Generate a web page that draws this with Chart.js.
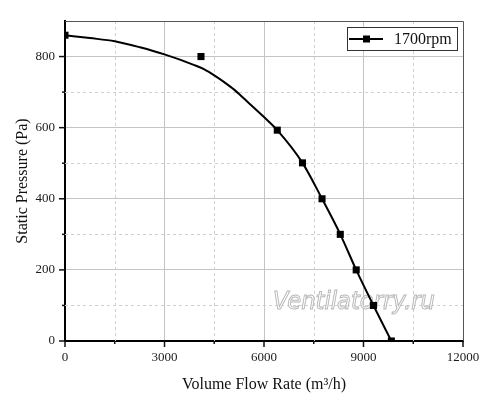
<!DOCTYPE html>
<html>
<head>
<meta charset="utf-8">
<script src="https://cdn.jsdelivr.net/npm/chart.js@4.4.0/dist/chart.umd.min.js"></script>
<style>
  html, body { margin: 0; padding: 0; background: #fff; }
  #wrap { width: 500px; height: 410px; }
</style>
</head>
<body>
<div id="wrap"><canvas id="fanChart"></canvas></div>
<script>
// measured points (square markers)
const flowRates = [0, 4100, 6400, 7160, 7750, 8300, 8780, 9300, 9840];
const pressures = [860, 800, 593, 501, 400, 300, 200, 100, 0];

// fitted curve
const fitFlow = [0, 750, 1500, 2260, 3000, 3900, 4200, 4500, 4800, 5100, 5430, 6000, 6400, 7160, 7750, 8300, 8780, 9300, 9840];
const fitPressure = [860, 852, 843, 826, 806, 776, 764, 747, 728, 707, 679, 630, 593, 501, 400, 300, 200, 100, 0];

const seriesLabel = "1700rpm";
const xTickLabels = [0, 3000, 6000, 9000, 12000];
const yTickLabels = [0, 200, 400, 600, 800];
const watermark = "Ventilatorry.ru";

const serif = "'Liberation Serif', 'Times New Roman', serif";

const minorGrid = {
    id: "minorGrid",
    beforeDatasetsDraw(chart) {
        const { ctx, chartArea: a } = chart;
        const x = chart.scales.x, y = chart.scales.y;
        ctx.save();
        ctx.strokeStyle = "#d0d0d0";
        ctx.lineWidth = 1;
        ctx.setLineDash([3, 3]);
        x.ticks.forEach(t => {
            if (xTickLabels.includes(t.value)) return;
            const px = Math.round(x.getPixelForValue(t.value)) + 0.5;
            ctx.beginPath(); ctx.moveTo(px, a.top); ctx.lineTo(px, a.bottom); ctx.stroke();
        });
        y.ticks.forEach(t => {
            if (yTickLabels.includes(t.value) || t.value === y.max) return;
            const py = Math.round(y.getPixelForValue(t.value)) + 0.5;
            ctx.beginPath(); ctx.moveTo(a.left, py); ctx.lineTo(a.right, py); ctx.stroke();
        });
        ctx.setLineDash([]);

        // watermark
        ctx.font = "italic 24px 'DejaVu Sans', sans-serif";
        const w = ctx.measureText(watermark).width;
        ctx.save();
        ctx.translate(354, 302);
        ctx.scale(162 / w, 1.05);
        ctx.textAlign = "center";
        ctx.textBaseline = "middle";
        ctx.fillStyle = "rgba(255,255,255,0.7)";
        ctx.fillText(watermark, 0, 0);
        ctx.strokeStyle = "#b8b8b8";
        ctx.lineWidth = 1;
        ctx.strokeText(watermark, 0, 0);
        ctx.restore();
        ctx.restore();
    }
};

const frameAndLegend = {
    id: "frameAndLegend",
    afterDraw(chart) {
        const { ctx, chartArea: a } = chart;
        const x = chart.scales.x, y = chart.scales.y;
        ctx.save();
        // top and right frame
        ctx.strokeStyle = "#555";
        ctx.lineWidth = 1;
        ctx.beginPath();
        ctx.moveTo(a.left, a.top + 0.5); ctx.lineTo(a.right + 0.5, a.top + 0.5); ctx.lineTo(a.right + 0.5, a.bottom);
        ctx.stroke();

        // tick marks
        ctx.strokeStyle = "#111";
        ctx.lineWidth = 1.5;
        x.ticks.forEach(t => {
            const px = x.getPixelForValue(t.value);
            const len = xTickLabels.includes(t.value) ? 6 : 3;
            ctx.beginPath(); ctx.moveTo(px, a.bottom); ctx.lineTo(px, a.bottom + len); ctx.stroke();
        });
        y.ticks.forEach(t => {
            if (t.value === y.max) return;
            const py = y.getPixelForValue(t.value);
            const len = yTickLabels.includes(t.value) ? 6 : 3;
            ctx.beginPath(); ctx.moveTo(a.left, py); ctx.lineTo(a.left - len, py); ctx.stroke();
        });

        // legend
        const bx = a.right - 116, by = a.top + 6, bw = 110, bh = 23;
        ctx.fillStyle = "#fff";
        ctx.fillRect(bx, by, bw, bh);
        ctx.strokeStyle = "#333";
        ctx.lineWidth = 1;
        ctx.strokeRect(bx + 0.5, by + 0.5, bw, bh);
        const ly = by + bh / 2 + 0.5;
        ctx.strokeStyle = "#000";
        ctx.lineWidth = 2;
        ctx.beginPath(); ctx.moveTo(bx + 2, ly); ctx.lineTo(bx + 36, ly); ctx.stroke();
        ctx.fillStyle = "#000";
        ctx.fillRect(bx + 16, ly - 3.5, 7, 7);
        ctx.font = "16px " + serif;
        ctx.textAlign = "left";
        ctx.textBaseline = "middle";
        ctx.fillStyle = "#111";
        ctx.fillText(seriesLabel, bx + 47, ly + 1);
        ctx.restore();
    }
};

new Chart(document.getElementById("fanChart"), {
    type: "line",
    data: {
        datasets: [
            {
                label: seriesLabel,
                data: fitFlow.map((v, i) => ({ x: v, y: fitPressure[i] })),
                borderColor: "#000",
                borderWidth: 2,
                pointRadius: 0,
                cubicInterpolationMode: "monotone",
                fill: false
            },
            {
                label: seriesLabel + " data",
                data: flowRates.map((v, i) => ({ x: v, y: pressures[i] })),
                showLine: false,
                pointStyle: "rect",
                pointRadius: 5,
                pointBackgroundColor: "#000",
                pointBorderColor: "#000",
                pointBorderWidth: 0
            }
        ]
    },
    options: {
        responsive: true,
        maintainAspectRatio: false,
        animation: false,
        layout: { padding: { top: 21, right: 37, left: 0, bottom: 0 } },
        plugins: {
            legend: { display: false },
            tooltip: { enabled: false }
        },
        scales: {
            x: {
                type: "linear",
                min: 0,
                max: 12000,
                afterFit: s => { s.height = 69; },
                border: { color: "#000", width: 2 },
                grid: {
                    drawTicks: false,
                    color: ctx => xTickLabels.includes(ctx.tick.value) && ctx.tick.value !== 0 && ctx.tick.value !== 12000 ? "#c4c4c4" : "transparent"
                },
                ticks: {
                    stepSize: 1500,
                    autoSkip: false,
                    maxRotation: 0,
                    padding: 9,
                    color: "#1a1a1a",
                    font: { family: serif, size: 13 },
                    callback: v => xTickLabels.includes(v) ? String(v) : ""
                },
                title: {
                    display: true,
                    text: "Volume Flow Rate (m³/h)",
                    color: "#111",
                    font: { family: serif, size: 16 },
                    padding: { top: 0, bottom: 16 }
                }
            },
            y: {
                min: 0,
                max: 900,
                afterFit: s => { s.width = 65; },
                border: { color: "#000", width: 2 },
                grid: {
                    drawTicks: false,
                    color: ctx => yTickLabels.includes(ctx.tick.value) && ctx.tick.value !== 0 ? "#c4c4c4" : "transparent"
                },
                ticks: {
                    stepSize: 100,
                    autoSkip: false,
                    padding: 10,
                    color: "#1a1a1a",
                    font: { family: serif, size: 13 },
                    callback: v => yTickLabels.includes(v) ? String(v) : ""
                },
                title: {
                    display: true,
                    text: "Static Pressure (Pa)",
                    color: "#111",
                    font: { family: serif, size: 16 },
                    padding: { top: 13, bottom: 0 }
                }
            }
        }
    },
    plugins: [minorGrid, frameAndLegend]
});
</script>
</body>
</html>
